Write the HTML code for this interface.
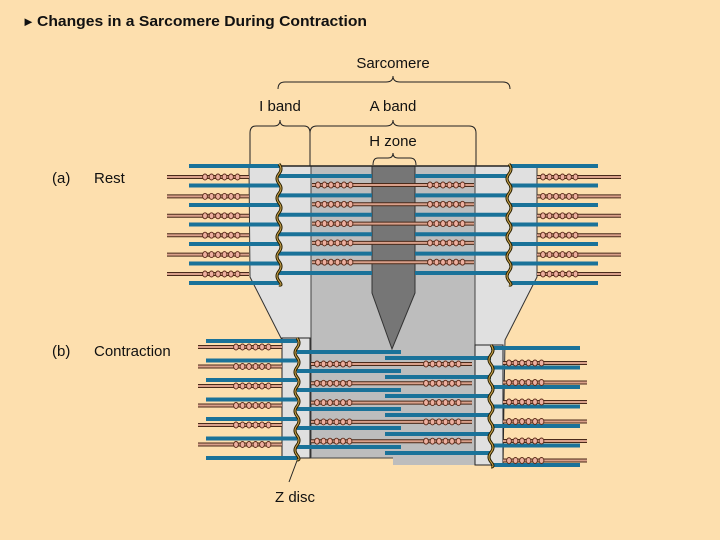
<!DOCTYPE html>
<html><head><meta charset="utf-8"><style>
html,body{margin:0;padding:0;background:#FDDFAE;}
svg{display:block;}
text{font-family:"Liberation Sans",sans-serif;fill:#111;}
</style></head><body>
<svg id="s" width="720" height="540" viewBox="0 0 720 540" xmlns="http://www.w3.org/2000/svg">
<rect width="720" height="540" fill="#FDDFAE"/>
<text x="22" y="26" font-size="13">►</text>
<text x="37" y="26" font-size="15" font-weight="bold" textLength="330" lengthAdjust="spacingAndGlyphs">Changes in a Sarcomere During Contraction</text>
<text x="393" y="68" font-size="15" text-anchor="middle">Sarcomere</text>
<text x="280" y="111" font-size="15" text-anchor="middle">I band</text>
<text x="393" y="111" font-size="15" text-anchor="middle">A band</text>
<text x="393" y="146" font-size="15" text-anchor="middle">H zone</text>
<text x="52" y="183" font-size="15">(a)</text><text x="94" y="183" font-size="15">Rest</text>
<text x="52" y="356" font-size="15">(b)</text><text x="94" y="356" font-size="15">Contraction</text>
<text x="275" y="502" font-size="15">Z disc</text>
<g fill="none" stroke="#222" stroke-width="1">
<path d="M278,89 Q278,82 285,82 L386,82 Q393,82 393,76 Q393,82 400,82 L503,82 Q510,82 510,89"/>
<path d="M250,133 Q250,126 256,126 L274,126 Q280,126 280,120 Q280,126 286,126 L304,126 Q310,126 310,133"/>
<path d="M310,133 Q310,126 317,126 L386,126 Q393,126 393,120 Q393,126 400,126 L469,126 Q476,126 476,133"/>
<path d="M373,165 Q373,158 378,158 L388,158 Q393,158 393,153 Q393,158 398,158 L410,158 Q416,158 416,165"/>
<line x1="250" y1="133" x2="250" y2="166"/><line x1="310" y1="133" x2="310" y2="166"/><line x1="476" y1="133" x2="476" y2="166"/>
<line x1="298" y1="458" x2="289" y2="482"/>
</g>
<polygon points="249,166 537,166 537,277 505,340 503,465 475,465 475,458 310,458 282,458 282,340 250,277" fill="#E0E0E0" stroke="#333" stroke-width="1"/>
<rect x="311" y="166" width="164" height="292" fill="#BDBDBD" stroke="#444" stroke-width="1"/>
<rect x="393" y="440" width="82" height="25" fill="#BDBDBD"/>
<polygon points="372,166 415,166 415,293 392,349 372,293" fill="#767676" stroke="#333" stroke-width="1"/>
<line x1="249" y1="166" x2="537" y2="166" stroke="#222" stroke-width="1.5"/>
<rect x="282" y="338" width="28" height="120" fill="#E0E0E0" stroke="#222" stroke-width="1"/>
<rect x="475" y="345" width="28" height="120" fill="#E0E0E0" stroke="#222" stroke-width="1"/>
<g id="f"></g>
</svg>
<script>
var g=document.getElementById('f'),h='';
function bl(x1,x2,y){h+='<line x1="'+x1+'" y1="'+y+'" x2="'+x2+'" y2="'+y+'" stroke="#1A7299" stroke-width="4"/>';}
function beads(a,b,y){for(var x=a;x<=b;x+=6.5)h+='<ellipse cx="'+x+'" cy="'+y+'" rx="2.4" ry="3" fill="#EDB0A0" stroke="#5a2a18" stroke-width="0.9"/>';}
function my(x1,x2,y,segs){h+='<line x1="'+x1+'" y1="'+y+'" x2="'+x2+'" y2="'+y+'" stroke="#4a2a1a" stroke-width="4"/>';h+='<line x1="'+x1+'" y1="'+y+'" x2="'+x2+'" y2="'+y+'" stroke="#D9A08A" stroke-width="2"/>';segs.forEach(function(s){beads(s[0],s[1],y);});}
function z(x,y0,y1){var d='M'+x+','+y0,t=0;for(var y=y0;y<y1;y+=9.75){t++;d+=' Q'+(x+(t%2?4:-4))+','+(y+4.9)+' '+x+','+Math.min(y+9.75,y1);}h+='<path d="'+d+'" fill="none" stroke="#2a2000" stroke-width="3"/><path d="'+d+'" fill="none" stroke="#C9A24A" stroke-width="1"/>';}
var i,y;
for(i=0;i<7;i++){y=166+19.5*i;bl(189,279,y);bl(509,598,y);}
for(i=0;i<6;i++){y=176+19.4*i;bl(279,372,y);bl(415,509,y);}
for(i=0;i<6;i++){y=177+19.4*i;my(167,249,y,[[205,243]]);my(537,621,y,[[543,581]]);}
for(i=0;i<5;i++){y=185+19.3*i;my(312,474,y,[[318,356],[430,468]]);}
z(279,164,285);z(509,164,285);
for(i=0;i<7;i++){y=341+19.5*i;bl(206,297,y);bl(491,580,y+7);}
for(i=0;i<6;i++){y=352+19*i;bl(297,401,y);bl(385,491,y+6);}
for(i=0;i<6;i++){y=347+19.5*i;my(198,282,y,[[236,274]]);my(503,587,y+16,[[509,547]]);}
for(i=0;i<5;i++){y=364+19.3*i;my(311,472,y,[[317,355],[426,464]]);}
z(297,338,460);z(491,345,467);
g.innerHTML=h;
</script>
</body></html>
